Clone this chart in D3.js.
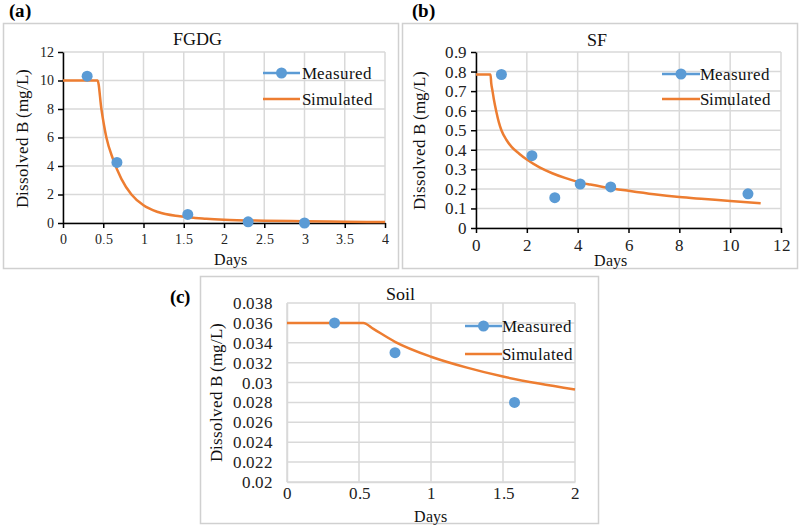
<!DOCTYPE html>
<html><head><meta charset="utf-8">
<script src="https://cdn.jsdelivr.net/npm/d3@7"></script>
<style>
@font-face{font-family:"RefSerif";src:local("Liberation Serif"),local("LiberationSerif-Regular"),local("LiberationSerif"),local("DejaVu Serif"),local("DejaVuSerif");font-weight:normal;}
@font-face{font-family:"RefSerif";src:local("Liberation Serif Bold"),local("LiberationSerif-Bold"),local("DejaVu Serif Bold"),local("DejaVuSerif-Bold");font-weight:bold;}
body{margin:0;background:#fff}svg{display:block}
</style>
</head><body><svg id="c" width="800" height="526"></svg>
<script>
// Panel (a) FGDG
const fgdgXTicks = [0,0.5,1,1.5,2,2.5,3,3.5,4];
const fgdgYTicks = [0,2,4,6,8,10,12];
const fgdgMeasDays = [0.3,0.67,1.55,2.3,3.0];
const fgdgMeasB = [10.3,4.25,0.6,0.08,0.0];
const fgdgSimDays = [0,0.43,0.477,0.539,0.62,0.725,0.85,1.0,1.18,1.45,1.78,2.0,2.5,3.0,3.5,4.0];
const fgdgSimB = [10,10,8.0,6.0,4.5,3.1,2.0,1.24,0.77,0.47,0.3,0.23,0.16,0.12,0.09,0.07];
// Panel (b) SF
const sfXTicks = [0,2,4,6,8,10,12];
const sfYTicks = [0,0.1,0.2,0.3,0.4,0.5,0.6,0.7,0.8,0.9];
const sfMeasDays = [1.0,2.2,3.1,4.1,5.3,10.7];
const sfMeasB = [0.785,0.37,0.155,0.225,0.21,0.175];
const sfSimDays = [0,0.57,0.6,0.65,0.7,0.8,0.9,1.0,1.2,1.4,1.7,2.0,2.5,3.0,3.5,4.0,4.5,5,6,7,8,9,10,11.2];
const sfSimB = [0.785,0.785,0.74,0.70,0.66,0.595,0.54,0.50,0.45,0.415,0.38,0.35,0.31,0.28,0.256,0.236,0.222,0.21,0.19,0.172,0.158,0.148,0.138,0.127];
// Panel (c) Soil
const soilXTicks = [0,0.5,1,1.5,2];
const soilYTicks = [0.02,0.022,0.024,0.026,0.028,0.03,0.032,0.034,0.036,0.038];
const soilMeasDays = [0.33,0.75,1.58];
const soilMeasB = [0.036,0.033,0.028];
const soilSimDays = [0,0.53,0.6,0.75,1.0,1.25,1.5,1.75,2.0];
const soilSimB = [0.036,0.036,0.0354,0.0341,0.0326,0.0315,0.0306,0.0299,0.0293];

const BLUE = "#5b9bd5", ORANGE = "#ed7d31", GRID = "#d9d9d9", FRAME = "#d0d0d0";
const FONT = "RefSerif, 'Liberation Serif', 'DejaVu Serif', serif";
const svg = d3.select("#c").attr("font-family",FONT).style("font-family",FONT);

function panel(o){
  const g = svg.append("g").attr("font-family",FONT);
  g.append("rect").attr("x",o.frame[0]+0.5).attr("y",o.frame[1]+0.5)
    .attr("width",o.frame[2]-o.frame[0]).attr("height",o.frame[3]-o.frame[1])
    .attr("fill","#fff").attr("stroke",FRAME).attr("stroke-width",1.5);
  g.append("text").attr("x",o.label[0]).attr("y",o.label[1]).attr("font-size",19)
    .attr("font-weight","bold").text(o.labelText);
  const x = d3.scaleLinear().domain(o.xDom).range([o.plot[0],o.plot[1]]);
  const y = d3.scaleLinear().domain(o.yDom).range([o.plot[3],o.plot[2]]);
  g.append("g").selectAll("line").data(o.xTicks).join("line")
    .attr("x1",d=>x(d)).attr("x2",d=>x(d)).attr("y1",o.plot[2]).attr("y2",o.plot[3])
    .attr("stroke",GRID).attr("stroke-width",1.5);
  g.append("g").selectAll("line").data(o.yTicks).join("line")
    .attr("y1",d=>y(d)).attr("y2",d=>y(d)).attr("x1",o.plot[0]).attr("x2",o.plot[1])
    .attr("stroke",GRID).attr("stroke-width",1.5);
  const xa = d3.axisBottom(x).tickValues(o.xTicks).tickFormat(d3.format("~g"))
    .tickSizeInner(o.black?5:0).tickSizeOuter(0).tickPadding(o.xPad);
  const ya = d3.axisLeft(y).tickValues(o.yTicks).tickFormat(d3.format("~g"))
    .tickSizeInner(o.black?5:0).tickSizeOuter(0).tickPadding(o.yPad);
  const axc = o.black ? "#000" : GRID;
  const gx = g.append("g").attr("transform",`translate(0,${o.plot[3]})`).call(xa);
  const gy = g.append("g").attr("transform",`translate(${o.plot[0]},0)`).call(ya);
  [gx,gy].forEach(a=>{
    a.attr("font-family",FONT).attr("font-size",o.tickFs);
    a.selectAll("path").attr("stroke",axc).attr("stroke-width",1.5);
    a.selectAll("line").attr("stroke",axc).attr("stroke-width",1.5);
    a.selectAll("text").attr("fill","#222");
  });
  g.append("text").attr("x",o.title[0]).attr("y",o.title[1]).attr("text-anchor","middle")
    .attr("font-size",18).attr("fill","#111").text(o.titleText);
  g.append("text").attr("transform",`translate(${o.ylab[0]},${o.ylab[1]}) rotate(-90)`)
    .attr("text-anchor","middle").attr("font-size",o.ylabFs).attr("fill","#111").text("Dissolved B (mg/L)");
  g.append("text").attr("x",o.xlab[0]).attr("y",o.xlab[1]).attr("text-anchor","middle")
    .attr("font-size",16).attr("fill","#111").text("Days");
  const line = d3.line().x(d=>x(d[0])).y(d=>y(d[1])).curve(d3.curveMonotoneX);
  g.append("path").datum(d3.zip(o.simX,o.simY)).attr("d",line)
    .attr("fill","none").attr("stroke",ORANGE).attr("stroke-width",2.5);
  g.append("g").selectAll("circle").data(d3.zip(o.measX,o.measY)).join("circle")
    .attr("cx",d=>x(d[0])).attr("cy",d=>y(d[1])).attr("r",5.5).attr("fill",BLUE);
  const L = o.legend;
  g.append("line").attr("x1",L[0]).attr("x2",L[1]).attr("y1",L[2]).attr("y2",L[2]).attr("stroke",BLUE).attr("stroke-width",2.5);
  g.append("circle").attr("cx",(L[0]+L[1])/2).attr("cy",L[2]).attr("r",5.5).attr("fill",BLUE);
  g.append("line").attr("x1",L[0]).attr("x2",L[1]).attr("y1",L[3]).attr("y2",L[3]).attr("stroke",ORANGE).attr("stroke-width",2.5);
  g.append("text").attr("x",L[4]).attr("y",L[2]).attr("dy","0.35em").attr("font-size",17).attr("fill","#111").text("Measured");
  g.append("text").attr("x",L[4]).attr("y",L[3]).attr("dy","0.35em").attr("font-size",17).attr("fill","#111").text("Simulated");
}

panel({frame:[3,23,398,268], label:[9,17], labelText:"(a)", plot:[63,385,52,223],
  xDom:[0,4], yDom:[0,12], xTicks:fgdgXTicks, yTicks:fgdgYTicks, black:true, tickFs:14, xPad:6, yPad:4,
  title:[197,45], titleText:"FGDG", ylab:[28,138], ylabFs:17, xlab:[230,265],
  simX:fgdgSimDays, simY:fgdgSimB, measX:fgdgMeasDays, measY:fgdgMeasB,
  legend:[263,300,73,99,302]});
panel({frame:[402,23,797,268], label:[412,17], labelText:"(b)", plot:[476,781,52,228],
  xDom:[0,12], yDom:[0,0.9], xTicks:sfXTicks, yTicks:sfYTicks, black:true, tickFs:17, xPad:6, yPad:4,
  title:[597,46], titleText:"SF", ylab:[425,140], ylabFs:17, xlab:[610,266],
  simX:sfSimDays, simY:sfSimB, measX:sfMeasDays, measY:sfMeasB,
  legend:[662,700,74,99,700]});
panel({frame:[200,276,598,523], label:[170,303], labelText:"(c)", plot:[287,575,303,482],
  xDom:[0,2], yDom:[0.02,0.038], xTicks:soilXTicks, yTicks:soilYTicks, black:false, tickFs:17, xPad:5, yPad:14,
  title:[400,300], titleText:"Soil", ylab:[222,392], ylabFs:17, xlab:[430,522],
  simX:soilSimDays, simY:soilSimB, measX:soilMeasDays, measY:soilMeasB,
  legend:[465,502,326,354,502]});
</script></body></html>
